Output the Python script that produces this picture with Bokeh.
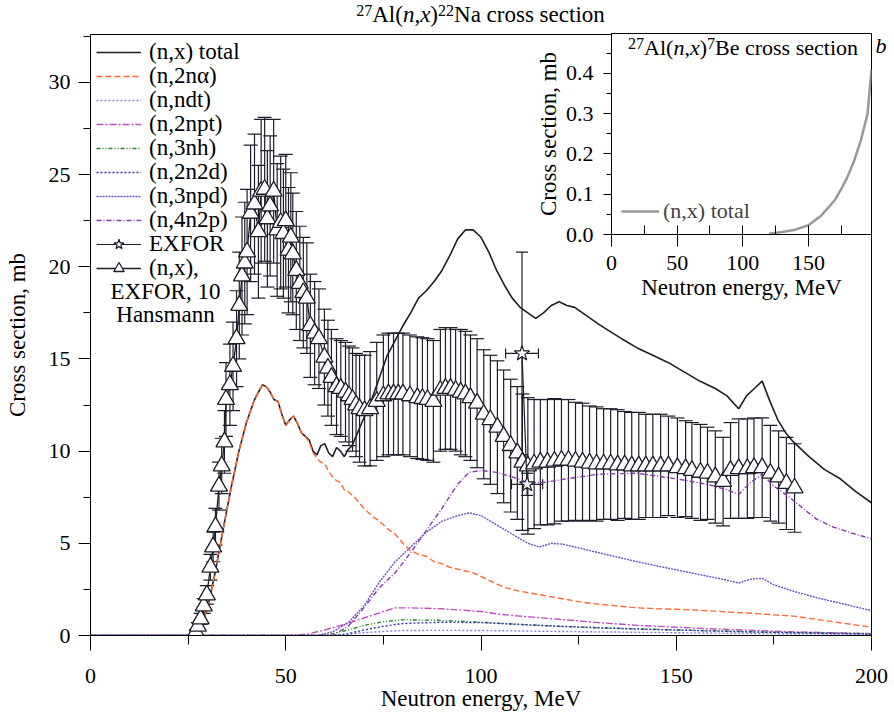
from bokeh.plotting import figure
from bokeh.models import (ColumnDataSource, Whisker, TeeHead, Legend, LegendItem, Label, Div,
                          SingleIntervalTicker, FixedTicker, Range1d, PrintfTickFormatter, LinearAxis)
from bokeh.layouts import column
from bokeh.embed import file_html
from bokeh.resources import INLINE
import numpy as np

# ---------------- data ----------------
# (n,x) total
tot_x = [0, 26, 27, 28, 30, 32, 34, 36, 38, 40, 42, 44, 45, 46, 47, 48, 49, 50, 51, 52,
         53, 54, 55, 56, 57, 58, 59, 60, 61, 62, 63, 64, 65, 66, 67, 68, 70, 72, 74, 76,
         78, 80, 82, 84, 86, 88, 90, 92, 94, 96, 98, 100, 102, 104, 106, 108, 110, 112, 114, 116,
         118, 120, 122, 124, 126, 128, 130, 133, 136, 140, 144, 148, 152, 156, 160, 163, 166, 168, 170, 172,
         174, 176, 178, 180, 184, 188, 192, 196, 200]
tot_y = [0, 0, 0.05, 0.3, 1.5, 3.5, 5.8, 8.0, 10.0, 11.6, 12.8, 13.6, 13.5, 13.2, 12.8, 12.7, 12.0, 11.4, 11.7, 11.9,
         11.5, 11.0, 10.8, 10.6, 10.0, 9.8, 10.3, 10.4, 9.9, 9.7, 10.2, 10.0, 9.7, 10.1, 10.3, 10.8, 11.8, 12.8, 14.0, 15.2,
         16.0, 16.8, 17.5, 18.3, 18.7, 19.2, 19.8, 20.6, 21.5, 22.0, 22.0, 21.6, 20.8, 19.8, 19.0, 18.3, 17.8, 17.5, 17.2, 17.5,
         17.9, 18.1, 17.9, 17.8, 17.5, 17.2, 16.9, 16.5, 16.1, 15.6, 15.2, 14.8, 14.3, 13.8, 13.4, 13.0, 12.3, 13.0, 13.4, 13.8,
         12.7, 11.7, 11.0, 10.5, 9.7, 9.0, 8.5, 7.8, 7.2]

# (n,2n alpha)
a_x = [0, 26, 27, 28, 30, 32, 34, 36, 38, 40, 42, 44, 45, 46, 47, 48, 49, 50, 51, 52,
       53, 54, 55, 56, 57, 58, 59, 60, 61, 62, 63, 64, 65, 66, 68, 70, 72, 74, 76, 78,
       80, 82, 84, 86, 88, 90, 92, 94, 96, 98, 100, 103, 106, 110, 114, 118, 122, 126, 130, 135,
       140, 145, 150, 155, 160, 165, 170, 175, 180, 185, 190, 195, 200]
a_y = [0, 0, 0.05, 0.3, 1.5, 3.5, 5.8, 8.0, 10.0, 11.6, 12.8, 13.6, 13.5, 13.2, 12.8, 12.7, 12.0, 11.4, 11.7, 11.9,
       11.5, 11.0, 10.8, 10.5, 9.9, 9.6, 9.4, 9.3, 8.9, 8.6, 8.4, 8.3, 7.9, 7.8, 7.4, 6.9, 6.5, 6.2, 5.8, 5.5,
       5.0, 4.6, 4.4, 4.3, 4.0, 3.9, 3.7, 3.6, 3.5, 3.4, 3.2, 2.9, 2.6, 2.4, 2.25, 2.1, 1.95, 1.8, 1.7, 1.6,
       1.5, 1.45, 1.42, 1.38, 1.32, 1.25, 1.2, 1.12, 1.05, 0.9, 0.75, 0.6, 0.45]

# (n,ndt)
ndt_x = [0, 60, 65, 70, 75, 80, 90, 100, 120, 150, 175, 200]
ndt_y = [0, 0, 0.05, 0.15, 0.22, 0.27, 0.28, 0.27, 0.22, 0.15, 0.1, 0.07]

# (n,2npt)
npt_x = [0, 52, 56, 60, 65, 70, 75, 78, 82, 90, 100, 105, 110, 120, 130, 140, 150, 160, 170, 180, 190, 200]
npt_y = [0, 0, 0.1, 0.3, 0.6, 0.95, 1.3, 1.5, 1.5, 1.45, 1.3, 1.15, 1.05, 0.88, 0.7, 0.55, 0.45, 0.35, 0.28, 0.2, 0.15, 0.1]

# (n,3nh)
nh_x = [0, 58, 62, 66, 70, 75, 80, 90, 100, 110, 120, 130, 140, 150, 160, 170, 180, 190, 200]
nh_y = [0, 0, 0.1, 0.3, 0.55, 0.75, 0.85, 0.82, 0.72, 0.6, 0.5, 0.42, 0.36, 0.3, 0.25, 0.2, 0.16, 0.13, 0.1]

# (n,2n2d)
n2d_x = [0, 62, 66, 70, 75, 80, 90, 100, 110, 120, 130, 140, 150, 160, 170, 180, 190, 200]
n2d_y = [0, 0, 0.1, 0.3, 0.5, 0.65, 0.72, 0.7, 0.6, 0.5, 0.42, 0.35, 0.3, 0.24, 0.19, 0.15, 0.11, 0.08]

# (n,3npd)
npd_x = [0, 58, 62, 66, 70, 74, 78, 82, 86, 90, 94, 97, 100, 104, 108, 112, 115, 118, 121, 126,
         131, 140, 148, 156, 162, 166, 169, 172, 175, 180, 186, 192, 200]
npd_y = [0, 0, 0.2, 0.7, 1.6, 2.9, 4.0, 4.8, 5.6, 6.2, 6.5, 6.65, 6.5, 6.0, 5.5, 5.0, 4.8, 5.0, 4.95, 4.7,
         4.45, 4.0, 3.65, 3.3, 3.05, 2.85, 3.05, 3.1, 2.75, 2.4, 2.05, 1.75, 1.35]

# (n,4n2p)
n2p_x = [0, 62, 66, 70, 74, 78, 82, 86, 90, 94, 97, 100, 104, 108, 112, 116, 122, 130, 140, 150,
         158, 163, 166, 169, 172, 175, 179, 183, 186, 190, 195, 200]
n2p_y = [0, 0, 0.5, 1.5, 2.6, 3.4, 4.5, 5.7, 6.9, 8.2, 8.85, 8.95, 8.85, 8.6, 8.3, 8.3, 8.5, 8.75, 8.8, 8.5,
         8.2, 7.9, 7.65, 8.3, 8.75, 8.1, 7.5, 6.8, 6.3, 5.9, 5.55, 5.25]

# EXFOR (stars)
ex_x = [110.5, 111.8]
ex_y = [15.3, 8.2]
ex_yerr = [5.5, 0.6]
ex_xerr = [4.2, 4.0]

# EXFOR, Hansmann (triangles)
hx = [27.0, 27.5, 28.2, 29.0, 29.8, 30.7, 31.4, 32.0, 32.9, 33.6,
      34.3, 34.7, 35.7, 36.5, 37.4, 38.1, 38.8, 39.5, 40.1, 41.0,
      42.0, 43.0, 43.7, 44.6, 45.3, 46.0, 46.9, 47.8, 48.7, 49.4,
      50.0, 50.7, 51.3, 51.8, 52.7, 53.6, 54.5, 55.4, 56.3, 57.4,
      58.5, 59.9, 60.8, 61.7, 63.0, 64.1, 65.3, 66.2, 67.1, 68.0,
      68.9, 70.2, 71.6, 73.3, 75.0, 76.3, 77.6, 78.8, 80.0, 81.8,
      83.7, 85.0, 86.3, 87.8, 89.6, 90.9, 92.2, 93.5, 94.8, 96.0,
      97.3, 99.0, 100.7, 102.4, 104.2, 105.8, 107.6, 109.3, 110.6, 112.0,
      113.6, 115.2, 117.0, 118.8, 120.6, 122.4, 124.2, 126.0, 127.8, 129.6,
      131.4, 133.2, 135.0, 136.8, 138.6, 140.4, 142.2, 144.0, 146.0, 148.0,
      150.3, 152.4, 154.0, 156.2, 158.0, 160.0, 162.0, 163.9, 166.0, 168.2,
      169.9, 172.0, 174.1, 176.2, 178.2, 180.3]
hy = [0.2, 0.5, 0.9, 1.6, 2.2, 3.7, 4.8, 5.9, 8.1, 9.2,
      10.5, 12.8, 13.6, 14.6, 16.1, 17.9, 19.5, 20.2, 20.8, 22.9,
      23.4, 21.9, 24.1, 24.2, 22.6, 23.3, 24.1, 22.0, 22.4, 21.8,
      22.5, 20.9, 21.6, 20.7, 19.8, 19.1, 18.6, 18.3, 16.8, 16.4,
      16.1, 15.1, 14.5, 14.0, 13.5, 13.4, 13.2, 13.0, 12.8, 12.5,
      12.3, 12.2, 12.3, 12.7, 13.0, 13.1, 13.1, 13.1, 13.1, 13.0,
      12.9, 12.85, 12.8, 12.7, 13.3, 13.4, 13.4, 13.3, 13.2, 13.1,
      12.9, 12.6, 12.0, 11.7, 11.3, 10.8, 10.3, 9.9, 9.4, 9.2,
      9.3, 9.4, 9.4, 9.45, 9.5, 9.5, 9.45, 9.4, 9.35, 9.3,
      9.3, 9.3, 9.25, 9.25, 9.2, 9.2, 9.2, 9.2, 9.2, 9.2,
      9.1, 9.05, 8.95, 8.85, 8.8, 8.6, 8.35, 8.95, 9.05, 9.05,
      9.1, 9.1, 8.8, 8.6, 8.25, 8.0]
herr = [0.1, 0.2, 0.3, 0.4, 0.5, 0.7, 0.8, 1.0, 1.3, 1.5,
        1.7, 2.0, 2.2, 2.4, 2.6, 2.9, 3.2, 3.3, 3.4, 3.7,
        3.8, 3.6, 3.9, 3.9, 3.7, 3.8, 3.9, 3.6, 3.6, 3.5,
        3.6, 3.4, 3.5, 3.3, 3.2, 3.1, 3.0, 3.0, 2.8, 2.8,
        2.7, 2.6, 2.6, 2.6, 2.6, 2.6, 2.7, 2.7, 2.8, 2.8,
        2.9, 3.0, 3.1, 3.2, 3.3, 3.3, 3.3, 3.3, 3.3, 3.3,
        3.3, 3.3, 3.3, 3.3, 3.3, 3.3, 3.3, 3.3, 3.4, 3.4,
        3.4, 3.5, 3.5, 3.5, 3.6, 3.6, 3.6, 3.6, 3.7, 3.7,
        3.5, 3.4, 3.4, 3.4, 3.3, 3.3, 3.2, 3.2, 3.1, 3.1,
        3.0, 3.0, 3.0, 2.9, 2.9, 2.9, 2.8, 2.8, 2.8, 2.7,
        2.7, 2.6, 2.6, 2.6, 2.5, 2.5, 2.4, 2.6, 2.7, 2.7,
        2.7, 2.7, 2.6, 2.5, 2.5, 2.4]

# inset: 27Al(n,x)7Be total
be_x = [120, 130, 140, 150, 160, 170, 175, 180, 185, 190, 195, 198]
be_y = [0.002, 0.006, 0.012, 0.023, 0.048, 0.085, 0.113, 0.145, 0.185, 0.235, 0.3, 0.41]

# ---------------- styling ----------------
FONT = "Liberation Serif, DejaVu Serif, serif"
CSS_FONT = "'Liberation Serif', 'DejaVu Serif', serif"
INK = "#1e1e2a"
W, H = 892, 718
BL, BR, BT, BB = 90, 21, 34, 83

p = figure(width=W, height=H, x_range=Range1d(0, 200), y_range=Range1d(0, 32.6),
           output_backend="svg", toolbar_location=None,
           min_border_left=BL, min_border_right=BR, min_border_top=BT, min_border_bottom=BB)
p.title.text = ""
p.grid.visible = False
p.outline_line_color = "black"
p.outline_line_width = 1
p.background_fill_color = "white"
p.border_fill_color = "white"

p.xaxis.ticker = SingleIntervalTicker(interval=50, num_minor_ticks=2)
p.yaxis.ticker = SingleIntervalTicker(interval=5, num_minor_ticks=2)
for ax in (p.xaxis[0], p.yaxis[0]):
    ax.axis_line_color = "black"
    ax.major_tick_line_color = "black"
    ax.minor_tick_line_color = "black"
    ax.major_tick_in = 0
    ax.minor_tick_in = 0
    ax.major_label_text_font = FONT
    ax.major_label_text_font_size = "22px"
    ax.major_label_text_color = "black"
    ax.axis_label_text_font = FONT
    ax.axis_label_text_font_size = "23px"
    ax.axis_label_text_font_style = "normal"
    ax.axis_label_text_color = "black"
p.xaxis.major_tick_out = 15
p.xaxis.minor_tick_out = 9
p.yaxis.major_tick_out = 12
p.yaxis.minor_tick_out = 7
p.xaxis.major_label_standoff = 18
p.yaxis.major_label_standoff = 8
p.xaxis.axis_label = "Neutron energy, MeV"
p.yaxis.axis_label = "Cross section, mb"
p.xaxis.axis_label_standoff = 0
p.yaxis.axis_label_standoff = 16

# panel letter "b" at the right of the frame
b_axis = LinearAxis(ticker=FixedTicker(ticks=[32]), major_label_overrides={32: "b"},
                    axis_line_color=None, major_tick_line_color=None, minor_tick_line_color=None,
                    major_tick_out=0, major_tick_in=0, minor_tick_out=0, minor_tick_in=0,
                    major_label_standoff=4, major_label_text_font=FONT,
                    major_label_text_font_size="22px", major_label_text_font_style="italic",
                    major_label_text_color="black")
p.add_layout(b_axis, "right")

LW = 1.4
r_tot = p.line(tot_x, tot_y, line_color=INK, line_width=1.6)
r_a = p.line(a_x, a_y, line_color="#ff6a33", line_width=LW, line_dash="6 3")
r_ndt = p.line(ndt_x, ndt_y, line_color="#8080e0", line_width=LW, line_dash="2 2")
r_npt = p.line(npt_x, npt_y, line_color="#c050c0", line_width=LW, line_dash="7 2 2 2")
r_nh = p.line(nh_x, nh_y, line_color="#228b22", line_width=LW, line_dash="4 2 1 2 1 2")
r_n2d = p.line(n2d_x, n2d_y, line_color="#3434b4", line_width=LW, line_dash="2 2")
r_npd = p.line(npd_x, npd_y, line_color="#7050c8", line_width=LW, line_dash="2 1")
r_n2p = p.line(n2p_x, n2p_y, line_color="#8a38b0", line_width=LW, line_dash="5 2 1 2")

# Hansmann data with error bars
hsrc = ColumnDataSource(dict(x=hx, y=hy,
                             lower=(np.array(hy) - np.array(herr)).tolist(),
                             upper=(np.array(hy) + np.array(herr)).tolist()))
p.add_layout(Whisker(source=hsrc, base="x", lower="lower", upper="upper",
                     line_color=INK, line_width=1.2,
                     lower_head=TeeHead(size=14, line_color=INK, line_width=1.2),
                     upper_head=TeeHead(size=14, line_color=INK, line_width=1.2)))
r_h_line = p.line("x", "y", source=hsrc, line_color=INK, line_width=1.3)
r_h_pts = p.scatter("x", "y", source=hsrc, marker="triangle", size=17,
                    fill_color="white", line_color=INK, line_width=1.3)

# EXFOR stars
esrc = ColumnDataSource(dict(x=ex_x, y=ex_y,
                             ylo=(np.array(ex_y) - np.array(ex_yerr)).tolist(),
                             yhi=(np.array(ex_y) + np.array(ex_yerr)).tolist(),
                             xlo=(np.array(ex_x) - np.array(ex_xerr)).tolist(),
                             xhi=(np.array(ex_x) + np.array(ex_xerr)).tolist()))
p.add_layout(Whisker(source=esrc, base="x", lower="ylo", upper="yhi",
                     line_color=INK, line_width=1.2,
                     lower_head=TeeHead(size=12, line_color=INK, line_width=1.2),
                     upper_head=TeeHead(size=12, line_color=INK, line_width=1.2)))
p.add_layout(Whisker(source=esrc, base="y", lower="xlo", upper="xhi", dimension="width",
                     line_color=INK, line_width=1.2,
                     lower_head=TeeHead(size=10, line_color=INK, line_width=1.2),
                     upper_head=TeeHead(size=10, line_color=INK, line_width=1.2)))
r_e_line = p.line("x", "y", source=esrc, line_color=INK, line_width=1.2)
r_e_pts = p.scatter("x", "y", source=esrc, marker="star", size=16,
                    fill_color="white", line_color=INK, line_width=1.2)

# legend: one small legend per entry so the row pitch (24 px) is exact
entries = [
    ("(n,x) total", [r_tot]),
    ("(n,2nα)", [r_a]),
    ("(n,ndt)", [r_ndt]),
    ("(n,2npt)", [r_npt]),
    ("(n,3nh)", [r_nh]),
    ("(n,2n2d)", [r_n2d]),
    ("(n,3npd)", [r_npd]),
    ("(n,4n2p)", [r_n2p]),
    ("EXFOR", [r_e_line, r_e_pts]),
    ("(n,x),", [r_h_line, r_h_pts]),
]
FRAME_H = H - BT - BB
ROW0, PITCH, ROWH = 18, 24, 26     # first row centre below frame top, pitch, box height
for i, (lab, rs) in enumerate(entries):
    yc = ROW0 + PITCH * i
    lg = Legend(items=[LegendItem(label=lab, renderers=rs)],
                location=(6, FRAME_H - yc - ROWH // 2))
    lg.label_text_font = FONT
    lg.label_text_font_size = "23px"
    lg.label_text_color = "black"
    lg.glyph_width = 45
    lg.glyph_height = ROWH
    lg.label_height = ROWH
    lg.label_standoff = 8
    lg.spacing = 0
    lg.padding = 0
    lg.margin = 0
    lg.border_line_alpha = 0
    lg.background_fill_alpha = 0
    p.add_layout(lg)

for txt, yy in (("EXFOR, 10", 18.65), ("Hansmann", 17.4)):
    p.add_layout(Label(x=19.2, y=yy, text=txt, text_align="center", text_baseline="middle",
                       text_font=FONT, text_font_size="23px", text_color="black"))

# ---------------- inset ----------------
# frame of the inset: 260 x 201 px, same left/right borders as the main plot (column aligns them)
IW, IH, IBT, IBB = 260, 201, 1, 70
q = figure(width=BL + IW + BR, height=IBT + IH + IBB, x_range=Range1d(0, 198), y_range=Range1d(0, 0.499),
           output_backend="svg", toolbar_location=None,
           min_border_left=BL, min_border_right=BR, min_border_top=IBT, min_border_bottom=IBB)
q.title.text = ""
q.grid.visible = False
q.outline_line_color = "black"
q.background_fill_color = "white"
q.border_fill_alpha = 0
q.xaxis.ticker = SingleIntervalTicker(interval=50, num_minor_ticks=2)
q.yaxis.ticker = SingleIntervalTicker(interval=0.1, num_minor_ticks=2)
q.yaxis.formatter = PrintfTickFormatter(format="%.1f")
for ax in (q.xaxis[0], q.yaxis[0]):
    ax.axis_line_color = "black"
    ax.major_tick_line_color = "black"
    ax.minor_tick_line_color = "black"
    ax.major_label_text_font = FONT
    ax.major_label_text_font_size = "22px"
    ax.major_label_text_color = "black"
    ax.axis_label_text_font = FONT
    ax.axis_label_text_font_size = "23px"
    ax.axis_label_text_font_style = "normal"
    ax.axis_label_text_color = "black"
q.xaxis.major_tick_in = 0
q.xaxis.major_tick_out = 12
q.xaxis.minor_tick_in = 9
q.xaxis.minor_tick_out = 0
q.yaxis.major_tick_in = 0
q.yaxis.major_tick_out = 8
q.yaxis.minor_tick_in = 0
q.yaxis.minor_tick_out = 5
q.xaxis.major_label_standoff = 9
q.yaxis.major_label_standoff = 10
q.xaxis.axis_label = "Neutron energy, MeV"
q.yaxis.axis_label = "Cross section, mb"
q.xaxis.axis_label_standoff = 2
q.yaxis.axis_label_standoff = 2

r_be = q.line(be_x, be_y, line_color="#999999", line_width=2.5)
qleg = Legend(items=[LegendItem(label="(n,x) total", renderers=[r_be])], location="bottom_left")
qleg.label_text_font = FONT
qleg.label_text_font_size = "22px"
qleg.glyph_width = 38
qleg.glyph_height = 20
qleg.label_height = 20
qleg.label_standoff = 4
qleg.padding = 10
qleg.margin = 0
qleg.border_line_alpha = 0
qleg.background_fill_alpha = 0
q.add_layout(qleg)

# ---------------- titles as HTML text (superscripts, italic n and x) ----------------
SUP = '<sup style="font-size:16px; vertical-align:0.35em; line-height:0">'
TH = 28
main_title = Div(text=SUP + "27</sup>Al(<i>n</i>,<i>x</i>)" + SUP + "22</sup>Na cross section",
                 width=W - BL - BR, height=TH,
                 styles={"font-family": CSS_FONT, "font-size": "23px", "line-height": "26px",
                         "text-align": "center", "color": "black", "white-space": "nowrap"})
IT_W = 250
inset_title = Div(text=SUP + "27</sup>Al(<i>n</i>,<i>x</i>)" + SUP + "7</sup>Be cross section",
                  width=IT_W, height=TH,
                  styles={"font-family": CSS_FONT, "font-size": "22px", "line-height": "26px",
                          "text-align": "right", "color": "black", "white-space": "nowrap"})

# overlay: every element after the main plot is pulled up with a negative top margin and
# given a bottom margin so the column height stays equal to the main plot height
def overlay(el, top, left, height):
    el.margin = (top - H, 0, H - top - height, left)

overlay(q, 33 - IBT, 611 - BL, IBT + IH + IBB)
overlay(main_title, 2, BL, TH)
overlay(inset_title, 35, 858 - IT_W, TH)
layout = column(p, q, main_title, inset_title, spacing=0)

open("out.html", "w").write(file_html(layout, INLINE))
